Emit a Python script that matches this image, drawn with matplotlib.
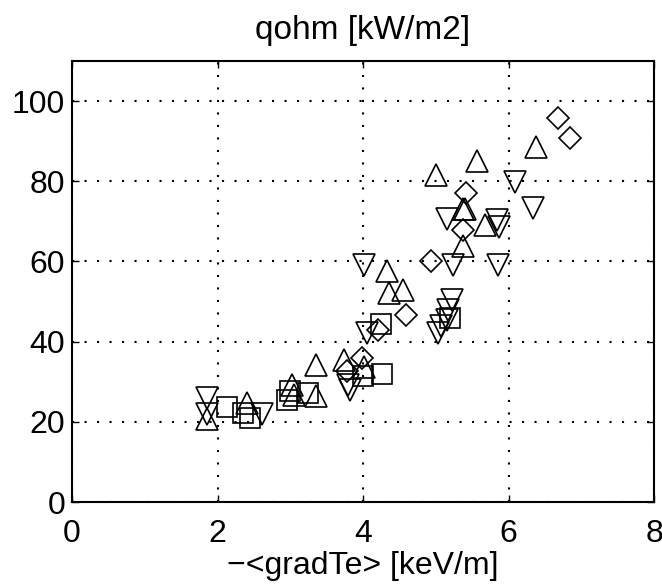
import matplotlib
matplotlib.use('Agg')
import matplotlib.pyplot as plt

# -<gradTe> [keV/m], qohm [kW/m2]
up_x = [1.86, 2.40, 3.02, 3.05, 3.35, 3.35, 3.74, 4.01, 4.33, 4.35, 4.55,
        5.00, 5.37, 5.40, 5.38, 5.57, 5.68, 6.38]
up_y = [20.6, 24.6, 29.3, 26.7, 26.5, 34.2, 35.5, 33.7, 57.7, 52.2, 52.8,
        81.6, 73.2, 73.0, 63.8, 85.0, 69.0, 88.6]

down_x = [1.86, 1.86, 2.61, 3.82, 3.80, 4.02, 4.05, 5.03, 5.07, 5.15, 5.22,
          5.17, 5.15, 5.23, 5.84, 5.87, 5.86, 6.09, 6.33]
down_y = [25.9, 22.0, 22.0, 28.0, 29.2, 59.2, 42.2, 42.2, 43.8, 45.3, 50.5,
          48.0, 70.7, 59.2, 70.3, 68.5, 59.2, 79.9, 73.3]

sq_x = [2.13, 2.35, 2.45, 2.96, 3.00, 3.25, 4.00, 4.26, 4.25, 5.20]
sq_y = [23.6, 22.3, 20.9, 25.5, 27.6, 27.3, 31.5, 32.0, 44.3, 45.9]

dia_x = [3.78, 3.99, 4.20, 4.59, 4.94, 5.42, 5.38, 6.68, 6.85]
dia_y = [32.8, 35.9, 43.0, 46.6, 60.0, 77.0, 67.8, 95.7, 90.7]

xticks = [0, 2, 4, 6, 8]
yticks = [0, 20, 40, 60, 80, 100]


def setup_pyplot():
    plt.rcParams['font.family'] = 'sans-serif'
    plt.rcParams['font.sans-serif'] = ['Liberation Sans', 'DejaVu Sans']
    plt.rcParams['font.size'] = 23
    plt.rcParams['xtick.direction'] = 'in'
    plt.rcParams['ytick.direction'] = 'in'
    plt.rcParams['axes.linewidth'] = 1.5


if __name__ == '__main__':
    setup_pyplot()

    fig = plt.figure(figsize=(6.62, 5.84), dpi=100)
    ax = fig.add_axes([0.1088, 0.1404, 0.8792, 0.7551])

    style = dict(linestyle='none', markerfacecolor='none', markeredgecolor='k',
                 markeredgewidth=1.2)
    ax.plot(sq_x, sq_y, marker='s', markersize=15, **style)
    ax.plot(dia_x, dia_y, marker='D', markersize=11, **style)
    ax.plot(up_x, up_y, marker='^', markersize=16, **style)
    ax.plot(down_x, down_y, marker='v', markersize=16, **style)

    ax.set_xlim(0, 8)
    ax.set_ylim(0, 110)
    ax.set_xticks(xticks)
    ax.set_yticks(yticks)
    ax.grid(True, color='k', linestyle=(0, (1, 5)), linewidth=1.5)
    ax.tick_params(top=True, right=True, length=5, width=1.0)
    ax.tick_params(axis='x', pad=12)
    ax.tick_params(axis='y', pad=5)

    ax.set_title('qohm [kW/m2]', fontsize=24, pad=16)
    ax.set_xlabel('\u2212<gradTe> [keV/m]', fontsize=23, labelpad=2)

    fig.savefig('out.png', dpi=100)
